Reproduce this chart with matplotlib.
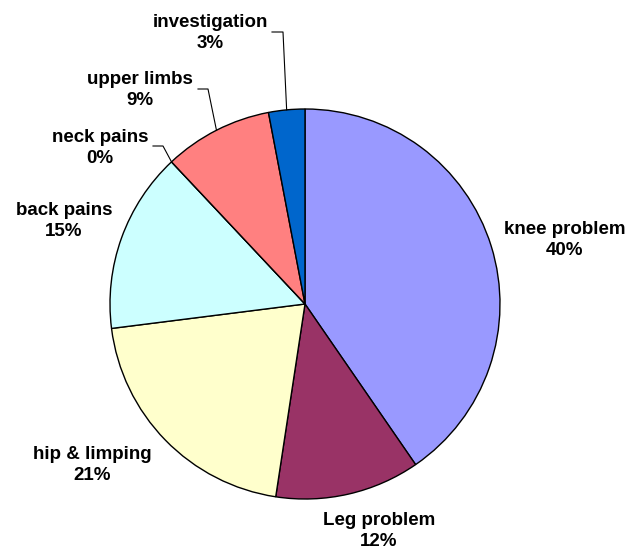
import matplotlib
matplotlib.use("Agg")
import matplotlib.pyplot as plt
import numpy as np

categories = ["knee problem", "Leg problem", "hip & limping", "back pains",
              "neck pains", "upper limbs", "investigation"]
values = [40.4, 12.0, 20.6, 15.0, 0.0, 9.0, 3.0]
colors = ["#9999FF", "#993366", "#FFFFCC", "#CCFFFF", "#660066", "#FF8080", "#0066CC"]

# label centres in pixel coords (layout), and leader-line elbow for small slices
label_pos = [(565, 240), (379, 531), (92, 465), (64, 221), (100, 148), (140, 90), (210, 33)]
leaders = {4: (153, 163, 146), 5: (198, 208, 89), 6: (272, 283, 32)}

W, H = 629, 552
cx, cy, r = 305, 304, 195

fig = plt.figure(figsize=(W / 100, H / 100), dpi=100)
ax = fig.add_axes([0, 0, 1, 1])
ax.set_xlim(0, W)
ax.set_ylim(0, H)
ax.set_aspect("equal")
ax.axis("off")

wedges, _ = ax.pie(values, colors=colors, startangle=90, counterclock=False,
                   center=(cx, H - cy), radius=r,
                   wedgeprops=dict(edgecolor="black", linewidth=1.0))
ax.set_xlim(0, W)
ax.set_ylim(0, H)

total = sum(values)
for i, (cat, val, (px, py)) in enumerate(zip(categories, values, label_pos)):
    ax.text(px, H - py, f"{cat}\n{val / total * 100:.0f}%", ha="center", va="center",
            fontsize=13.5, fontweight="bold", family=["Liberation Sans", "DejaVu Sans"],
            linespacing=1.3, color="#000000")
    if i in leaders:
        x0, x1, ly = leaders[i]
        w = wedges[i]
        ang = np.deg2rad((w.theta1 + w.theta2) / 2)
        ex = cx + r * np.cos(ang)
        ey = (H - cy) + r * np.sin(ang)
        ax.plot([x0, x1, ex], [H - ly, H - ly, ey], color="black", lw=0.8)

fig.savefig("out.png", dpi=100)
